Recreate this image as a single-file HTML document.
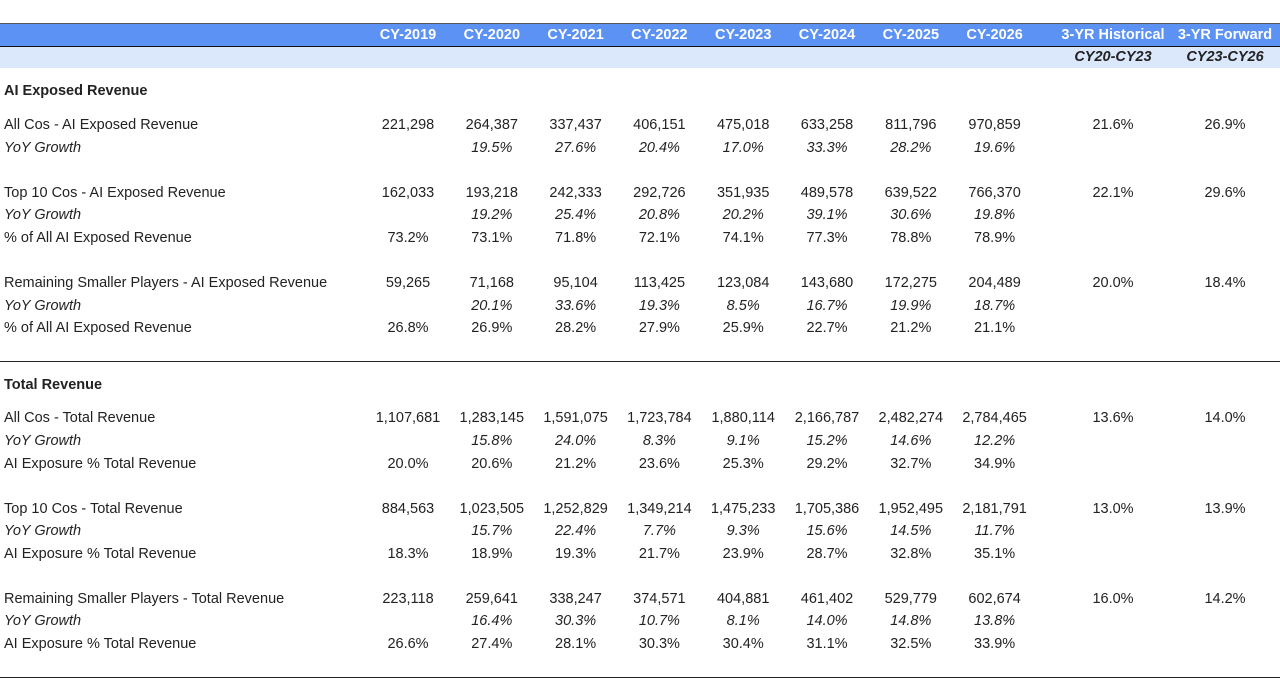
<!DOCTYPE html>
<html><head><meta charset="utf-8"><style>
body{margin:0;width:1280px;height:680px;background:#fff;position:relative;overflow:hidden;font-family:"Liberation Sans",sans-serif;color:#222;}
.t{position:absolute;white-space:nowrap;font-size:14.5px;line-height:18px;transform:translateY(-9px);}
.c{transform:translate(-50%,-9px);}
.i{font-style:italic;}
.b{font-weight:bold;}
.band{position:absolute;left:0;width:1280px;}
</style></head><body>
<div class="band" style="top:23px;height:22px;background:#5c92f3;border-top:1px solid #555;border-bottom:1px solid #111;"></div>
<div class="band" style="top:47px;height:21px;background:#dbe7fb;"></div>
<div class="band" style="top:361px;height:1px;background:#222;"></div>
<div class="band" style="top:677px;height:1px;background:#222;"></div>
<div id="tbl"></div>
<script>
const years=["CY-2019","CY-2020","CY-2021","CY-2022","CY-2023","CY-2024","CY-2025","CY-2026"];
const cagrHeads=["3-YR Historical","3-YR Forward"];
const cagrSub=["CY20-CY23","CY23-CY26"];
const sections=[["AI Exposed Revenue",91],["Total Revenue",385]];
const rowLabels=["All Cos - AI Exposed Revenue","YoY Growth","Top 10 Cos - AI Exposed Revenue","YoY Growth","% of All AI Exposed Revenue","Remaining Smaller Players - AI Exposed Revenue","YoY Growth","% of All AI Exposed Revenue","All Cos - Total Revenue","YoY Growth","AI Exposure % Total Revenue","Top 10 Cos - Total Revenue","YoY Growth","AI Exposure % Total Revenue","Remaining Smaller Players - Total Revenue","YoY Growth","AI Exposure % Total Revenue"];
const rowY=[125,148,193,215,238,283,306,328,418,441,464,509,531,554,599,621,644];
const rowValues=[
["221,298","264,387","337,437","406,151","475,018","633,258","811,796","970,859"],
["","19.5%","27.6%","20.4%","17.0%","33.3%","28.2%","19.6%"],
["162,033","193,218","242,333","292,726","351,935","489,578","639,522","766,370"],
["","19.2%","25.4%","20.8%","20.2%","39.1%","30.6%","19.8%"],
["73.2%","73.1%","71.8%","72.1%","74.1%","77.3%","78.8%","78.9%"],
["59,265","71,168","95,104","113,425","123,084","143,680","172,275","204,489"],
["","20.1%","33.6%","19.3%","8.5%","16.7%","19.9%","18.7%"],
["26.8%","26.9%","28.2%","27.9%","25.9%","22.7%","21.2%","21.1%"],
["1,107,681","1,283,145","1,591,075","1,723,784","1,880,114","2,166,787","2,482,274","2,784,465"],
["","15.8%","24.0%","8.3%","9.1%","15.2%","14.6%","12.2%"],
["20.0%","20.6%","21.2%","23.6%","25.3%","29.2%","32.7%","34.9%"],
["884,563","1,023,505","1,252,829","1,349,214","1,475,233","1,705,386","1,952,495","2,181,791"],
["","15.7%","22.4%","7.7%","9.3%","15.6%","14.5%","11.7%"],
["18.3%","18.9%","19.3%","21.7%","23.9%","28.7%","32.8%","35.1%"],
["223,118","259,641","338,247","374,571","404,881","461,402","529,779","602,674"],
["","16.4%","30.3%","10.7%","8.1%","14.0%","14.8%","13.8%"],
["26.6%","27.4%","28.1%","30.3%","30.4%","31.1%","32.5%","33.9%"]];
const cagrValues=[["21.6%","26.9%"],["",""],["22.1%","29.6%"],["",""],["",""],["20.0%","18.4%"],["",""],["",""],["13.6%","14.0%"],["",""],["",""],["13.0%","13.9%"],["",""],["",""],["16.0%","14.2%"],["",""],["",""]];
const colX=i=>408+83.8*i;
const cagrX=[1113,1225];
const root=document.getElementById('tbl');
function put(txt,x,y,cls,name){
  const d=document.createElement('div');
  d.className='t '+cls;d.textContent=txt;d.style.left=x+'px';d.style.top=y+'px';
  
  
  root.appendChild(d);return d;
}
years.forEach((y,i)=>{const d=put(y,colX(i),35,'c b','year-header');d.style.color='#fff';});
cagrHeads.forEach((h,i)=>{const d=put(h,cagrX[i],35,'c b','cagr-header');d.style.color='#fff';});
cagrSub.forEach((h,i)=>put(h,cagrX[i],57,'c b i','cagr-period'));
sections.forEach(s=>put(s[0],4,s[1],'b','section-title'));
rowLabels.forEach((l,r)=>{
  const it=l==="YoY Growth";
  put(l,4,rowY[r],it?'i':'','row-label');
  rowValues[r].forEach((v,i)=>{if(v)put(v,colX(i),rowY[r],'c'+(it?' i':''),'cell-value');});
  cagrValues[r].forEach((v,i)=>{if(v)put(v,cagrX[i],rowY[r],'c','cagr-value');});
});
</script>
</body></html>
